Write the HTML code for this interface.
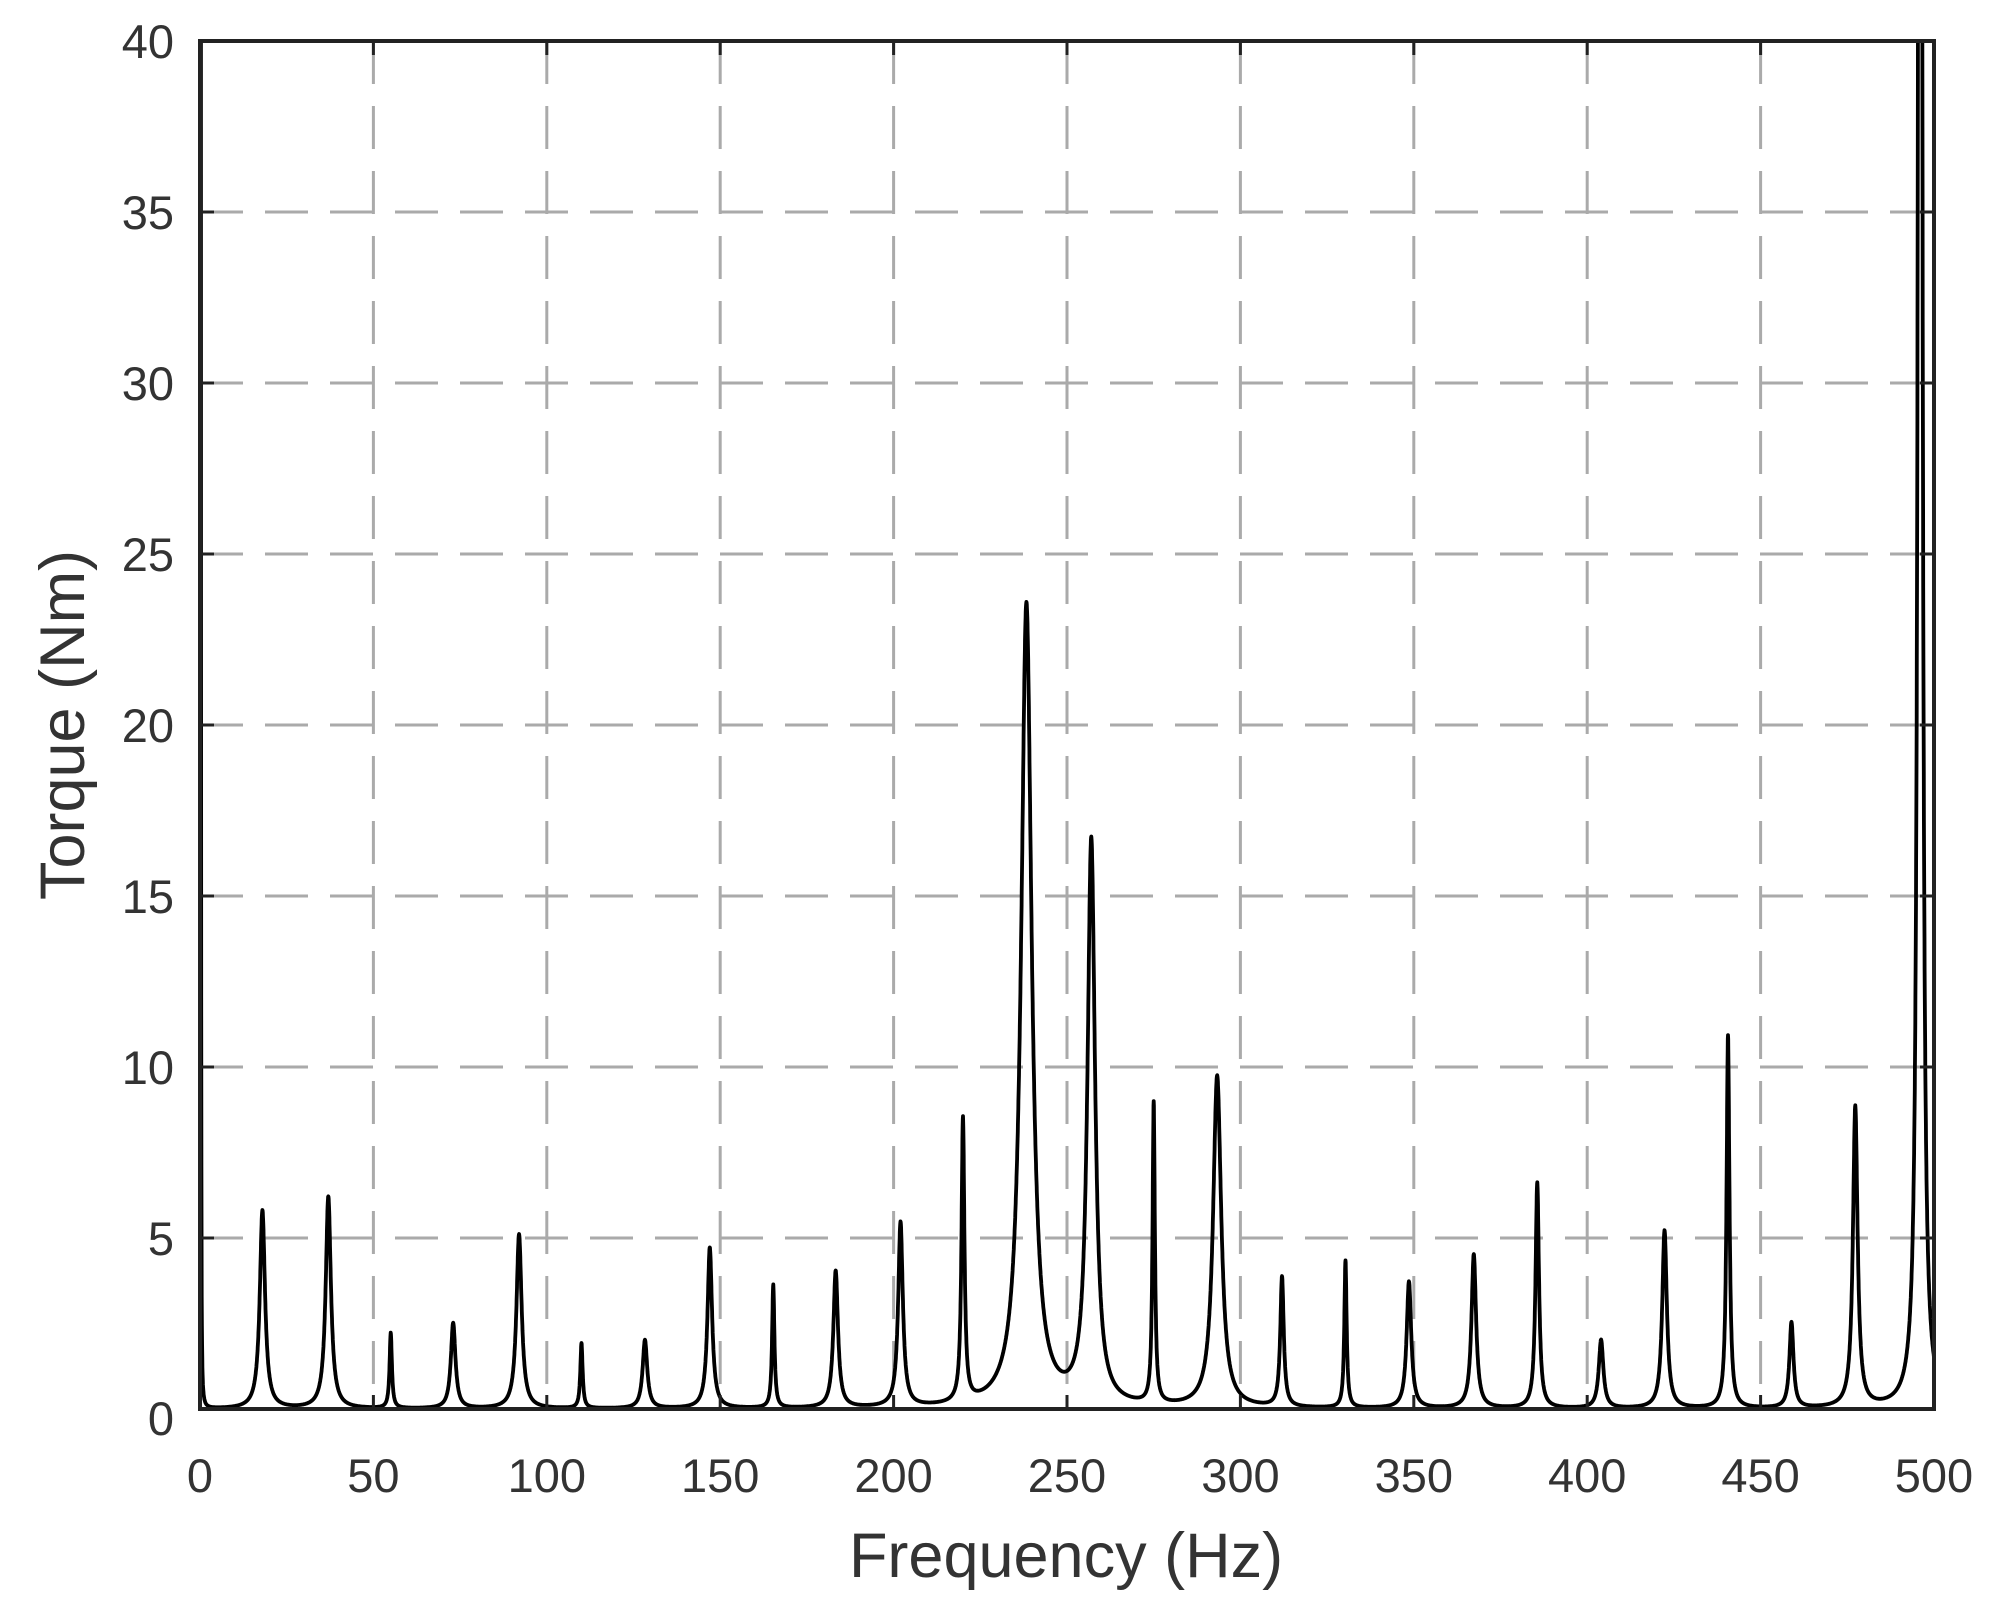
<!DOCTYPE html>
<html><head><meta charset="utf-8"><style>
html,body{margin:0;padding:0;background:#fff;}
svg{display:block;font-family:"Liberation Sans",Arial,sans-serif;}
</style></head><body>
<svg id="chart" width="1994" height="1615" viewBox="0 0 1994 1615" xmlns="http://www.w3.org/2000/svg">
<defs><clipPath id="plotclip"><rect x="200" y="41" width="1734" height="1368"/></clipPath></defs>
<g id="grid"></g>
<g id="series" clip-path="url(#plotclip)"></g>
<g id="axes"></g>
<text x="1066" y="1577" font-size="63" text-anchor="middle" fill="#333">Frequency (Hz)</text>
<text x="0" y="0" font-size="63" text-anchor="middle" fill="#333" transform="translate(84,725) rotate(-90)">Torque (Nm)</text>
</svg>
<script>
const xTicks = [0,50,100,150,200,250,300,350,400,450,500];
const yTicks = [0,5,10,15,20,25,30,35,40];
const peakFreqs = [0.2,18,37,55,73,92,110,128.3,147,165.3,183.3,202,220,238.3,257,275,293.3,312,330.3,348.6,367.3,385.6,404,422.3,440.6,458.9,477.3,496];
const peakAmps  = [120,5.8,6.2,2.2,2.5,5.1,1.9,2.0,4.7,3.6,4.0,5.4,8.3,23.5,16.5,8.8,9.7,3.8,4.3,3.7,4.5,6.6,2.0,5.2,10.9,2.5,8.8,120];
const peakWidths= [0.05,0.9,0.9,0.4,0.8,0.9,0.4,0.8,0.8,0.4,0.8,0.8,0.5,1.8,1.3,0.4,1.4,0.6,0.4,0.8,0.8,0.6,0.8,0.8,0.5,0.7,0.8,0.45];

const X0=200,X1=1934,Y0=1409,Y1=41;
const xs = f => X0 + (f-0)/(500-0)*(X1-X0);
const ys = v => Y0 - (v-0)/(40-0)*(Y0-Y1);
const NS="http://www.w3.org/2000/svg";
const grid=document.getElementById('grid'), axes=document.getElementById('axes'), series=document.getElementById('series');
function mk(tag,attrs,parent){const e=document.createElementNS(NS,tag);for(const k in attrs)e.setAttribute(k,attrs[k]);parent.appendChild(e);return e;}

xTicks.forEach(t=>{
  const x=xs(t);
  if(t>0&&t<500){
    const g=mk('line',{x1:x,y1:Y1,x2:x,y2:Y0,stroke:'#aaa','stroke-width':3,'stroke-dasharray':'43,22'},grid);
    
    
  }
  const tk=mk('line',{x1:x,y1:Y0,x2:x,y2:Y0-14,stroke:'#222','stroke-width':3},axes);
  
  
  const tk2=mk('line',{x1:x,y1:Y1,x2:x,y2:Y1+14,stroke:'#222','stroke-width':3},axes);
  
  
  const lb=mk('text',{x:x,y:1492,'font-size':47,'text-anchor':'middle',fill:'#333'},axes);
  lb.textContent=t;
  
  
});
yTicks.forEach(t=>{
  const y=ys(t);
  if(t>0&&t<40){
    const g=mk('line',{x1:X0,y1:y,x2:X1,y2:y,stroke:'#aaa','stroke-width':3,'stroke-dasharray':'43,22'},grid);
    
    
  }
  const tk=mk('line',{x1:X0,y1:y,x2:X0+14,y2:y,stroke:'#222','stroke-width':3},axes);
  
  
  const tk2=mk('line',{x1:X1,y1:y,x2:X1-14,y2:y,stroke:'#222','stroke-width':3},axes);
  
  
  const lb=mk('text',{x:174,y:y+(t===0?26:17),'font-size':47,'text-anchor':'end',fill:'#333'},axes);
  lb.textContent=t;
  
  
});
const box=mk('rect',{x:X0,y:Y1,width:X1-X0,height:Y0-Y1,fill:'none',stroke:'#222','stroke-width':4},axes);



let d='';
for(let i=0;i<=10000;i++){
  const f=i*0.05;
  let v=0;
  for(let k=0;k<peakFreqs.length;k++){const u=(f-peakFreqs[k])/peakWidths[k];v+=peakAmps[k]/(1+u*u);}
  v=Math.min(v,45);
  d+=(i?'L':'M')+xs(f).toFixed(1)+','+ys(v).toFixed(1);
}
const p=mk('path',{d:d,fill:'none',stroke:'#000','stroke-width':3.8,'stroke-linejoin':'round'},series);


</script>
</body></html>
